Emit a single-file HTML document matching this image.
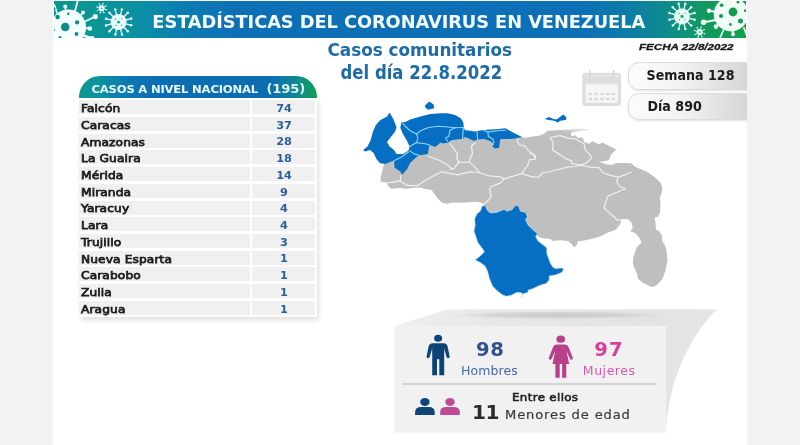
<!DOCTYPE html>
<html lang="es">
<head>
<meta charset="utf-8">
<title>Estadísticas del Coronavirus en Venezuela</title>
<style>
html,body{margin:0;padding:0;}
body{width:800px;height:445px;overflow:hidden;background:#f1f2f4;font-family:"DejaVu Sans","Liberation Sans",sans-serif;position:relative;}
#card{position:absolute;left:53px;top:0;width:693.6px;height:445px;background:#fff;}
#banner{position:absolute;left:54px;top:1.3px;width:692px;height:36.9px;
 background:linear-gradient(90deg,#0b968f 0px,#0b9497 50px,#0b8ea6 90px,#0c7bb2 135px,#0d70b7 180px,#0d6fb6 530px,#0c7da6 575px,#0e8d8a 616px,#119a5c 652px,#12a04c 692px);}
.abs{position:absolute;white-space:nowrap;margin:0;padding:0;line-height:1;}
#title{left:152.3px;top:12.9px;font-size:17.8px;font-weight:bold;color:#f3fbff;letter-spacing:-0.06px;}
#sub1{left:327.5px;top:40.6px;font-size:16.8px;transform-origin:0 0;transform:scaleY(1.05);font-weight:bold;color:#1b6ca9;}
#sub2{left:340.5px;top:64.3px;font-size:16.5px;transform-origin:0 0;transform:scaleY(1.14);font-weight:bold;color:#1b6ca9;}
#fecha{left:639px;top:42.4px;font-size:9.5px;font-weight:bold;font-style:italic;color:#1a1a1a;font-family:"Liberation Sans",sans-serif;transform-origin:0 0;transform:scaleX(1.222);-webkit-text-stroke:0.3px #1a1a1a;}
.pill{position:absolute;left:628px;width:130px;height:27.5px;border:1px solid #dcdcdc;border-radius:11px 0 0 11px;box-sizing:border-box;
 background:linear-gradient(90deg,#fcfcfc 0%,#f3f3f3 40%,#d6d6d6 92%,#d2d2d2 100%);box-shadow:0 1px 2px rgba(0,0,0,.12);}
.pill span{position:absolute;left:17.5px;top:4.8px;font-size:14.1px;font-family:"DejaVu Sans Condensed","DejaVu Sans",sans-serif;font-weight:bold;color:#1c1c1c;line-height:1;white-space:nowrap;}
#edgeR{position:absolute;left:746.6px;top:0;width:53px;height:445px;background:#f1f2f4;}
/* table */
#thead{position:absolute;left:79px;top:76px;width:238px;height:22px;border-radius:21px 21px 0 0;
 background:linear-gradient(90deg,#0d9a8e 0%,#0c92a0 9%,#0d76b2 22%,#0d6db3 34%,#0d6db2 80%,#0e8a90 92%,#11a050 100%);}
#thead span{position:absolute;left:12.5px;top:8.6px;font-size:11.6px;font-weight:bold;color:#e9f8ff;line-height:1;white-space:pre;transform-origin:0 0;transform:scale(1.0,0.88);letter-spacing:-0.2px;}
#thead span.tot{left:187.6px;top:6.6px;font-size:13.2px;letter-spacing:-0.25px;color:#dcf5fa;}
#tbl{position:absolute;left:79px;top:100.3px;width:238.4px;box-shadow:2px 3px 5px rgba(0,0,0,.13);background:#fff;}
.row{position:relative;height:14px;margin-bottom:2.73px;}
.row:last-child{margin-bottom:2.4px;}
.row .n{position:absolute;left:0;top:0;width:171px;height:100%;background:#f0f0f0;}
.row .v{position:absolute;left:173px;top:0;width:63px;height:100%;background:#f0f0f0;}
.row .n span{position:absolute;left:2.4px;top:2.8px;font-size:11px;color:#1e1e1e;line-height:1;white-space:nowrap;letter-spacing:0.1px;-webkit-text-stroke:0.75px #1e1e1e;transform-origin:0 0;transform:scaleX(1.11);}
.row .v span{position:absolute;left:0.5px;width:63px;text-align:center;top:2.7px;font-size:11.3px;font-weight:bold;color:#2b5f9c;line-height:1;}
/* bottom panel */
</style>
</head>
<body>
<div id="card"></div>
<div id="banner"></div>
<!--VIR-->
<svg id="vir" class="abs" style="left:54px;top:1px" width="692" height="37" viewBox="54 1 692 37">
<g fill="#f2fffd" stroke="#f2fffd" stroke-linecap="round">
<circle cx="68.3" cy="27.3" r="17.8" stroke="none"/>
<line x1="66" y1="12" x2="65.2" y2="6.6" stroke-width="1.6"/>
<circle cx="65.2" cy="6.6" r="2.0" stroke="none"/>
<line x1="75" y1="11" x2="77.5" y2="1.5" stroke-width="1.8"/>
<line x1="80" y1="16" x2="83" y2="12.4" stroke-width="1.6"/>
<circle cx="83" cy="12.4" r="2.0" stroke="none"/>
<line x1="84" y1="22" x2="95.3" y2="16.6" stroke-width="1.7"/>
<circle cx="95.3" cy="16.6" r="2.6" stroke="none"/>
<line x1="84" y1="28" x2="89.9" y2="28.5" stroke-width="1.8"/>
<circle cx="89.9" cy="28.5" r="2.3" stroke="none"/>
<line x1="82" y1="35" x2="92" y2="38.5" stroke-width="2.4"/>
<circle cx="92" cy="38.5" r="2.6" stroke="none"/>
<line x1="57" y1="13" x2="54.5" y2="5" stroke-width="1.6"/>
</g>
<g fill="#0d8c86">
<circle cx="65.2" cy="27" r="4.3"/>
<circle cx="57.6" cy="17" r="2.2"/>
<circle cx="77.1" cy="22.4" r="2.1"/>
<circle cx="76.5" cy="34" r="1.9"/>
<circle cx="68.3" cy="13.8" r="1.2"/>
<circle cx="60.1" cy="37.4" r="1.5"/>
<circle cx="54.2" cy="9" r="1.3"/>
<circle cx="54" cy="30" r="0.9"/>
</g>
<g fill="#dffaff" stroke="#dffaff">
<circle cx="101.6" cy="8.3" r="3.0" stroke="none"/>
<line x1="104.0" y1="9.0" x2="106.3" y2="9.7" stroke-width="0.9"/>
<circle cx="106.3" cy="9.7" r="0.7" stroke="none"/>
<line x1="102.8" y1="10.5" x2="103.9" y2="12.6" stroke-width="0.9"/>
<circle cx="103.9" cy="12.6" r="0.7" stroke="none"/>
<line x1="100.9" y1="10.7" x2="100.2" y2="13.0" stroke-width="0.9"/>
<circle cx="100.2" cy="13.0" r="0.7" stroke="none"/>
<line x1="99.4" y1="9.5" x2="97.3" y2="10.6" stroke-width="0.9"/>
<circle cx="97.3" cy="10.6" r="0.7" stroke="none"/>
<line x1="99.2" y1="7.6" x2="96.9" y2="6.9" stroke-width="0.9"/>
<circle cx="96.9" cy="6.9" r="0.7" stroke="none"/>
<line x1="100.4" y1="6.1" x2="99.3" y2="4.0" stroke-width="0.9"/>
<circle cx="99.3" cy="4.0" r="0.7" stroke="none"/>
<line x1="102.3" y1="5.9" x2="103.0" y2="3.6" stroke-width="0.9"/>
<circle cx="103.0" cy="3.6" r="0.7" stroke="none"/>
<line x1="103.8" y1="7.1" x2="105.9" y2="6.0" stroke-width="0.9"/>
<circle cx="105.9" cy="6.0" r="0.7" stroke="none"/>
</g>
<g fill="#3aa9b0">
<circle cx="101.6" cy="8.3" r="0.9"/>
</g>
<g fill="#e6fbff" stroke="#e6fbff">
<circle cx="118.6" cy="22.0" r="8.0" stroke="none"/>
<line x1="125.8" y1="23.9" x2="131.2" y2="25.3" stroke-width="1.3"/>
<circle cx="131.2" cy="25.3" r="1.25" stroke="none"/>
<line x1="123.9" y1="27.3" x2="127.8" y2="31.2" stroke-width="1.3"/>
<circle cx="127.8" cy="31.2" r="1.25" stroke="none"/>
<line x1="120.6" y1="29.2" x2="122.0" y2="34.6" stroke-width="1.3"/>
<circle cx="122.0" cy="34.6" r="1.25" stroke="none"/>
<line x1="116.7" y1="29.2" x2="115.3" y2="34.6" stroke-width="1.3"/>
<circle cx="115.3" cy="34.6" r="1.25" stroke="none"/>
<line x1="113.3" y1="27.3" x2="109.4" y2="31.2" stroke-width="1.3"/>
<circle cx="109.4" cy="31.2" r="1.25" stroke="none"/>
<line x1="111.4" y1="24.0" x2="106.0" y2="25.4" stroke-width="1.3"/>
<circle cx="106.0" cy="25.4" r="1.25" stroke="none"/>
<line x1="111.4" y1="20.1" x2="106.0" y2="18.7" stroke-width="1.3"/>
<circle cx="106.0" cy="18.7" r="1.25" stroke="none"/>
<line x1="113.3" y1="16.7" x2="109.4" y2="12.8" stroke-width="1.3"/>
<circle cx="109.4" cy="12.8" r="1.25" stroke="none"/>
<line x1="116.6" y1="14.8" x2="115.2" y2="9.4" stroke-width="1.3"/>
<circle cx="115.2" cy="9.4" r="1.25" stroke="none"/>
<line x1="120.5" y1="14.8" x2="121.9" y2="9.4" stroke-width="1.3"/>
<circle cx="121.9" cy="9.4" r="1.25" stroke="none"/>
<line x1="123.9" y1="16.7" x2="127.8" y2="12.8" stroke-width="1.3"/>
<circle cx="127.8" cy="12.8" r="1.25" stroke="none"/>
<line x1="125.8" y1="20.0" x2="131.2" y2="18.6" stroke-width="1.3"/>
<circle cx="131.2" cy="18.6" r="1.25" stroke="none"/>
</g>
<g fill="#2e9fb0">
<circle cx="118.6" cy="22" r="1.6"/>
<circle cx="115.5" cy="19" r="0.7"/>
<circle cx="121.5" cy="25.2" r="0.7"/>
<circle cx="116" cy="25.5" r="0.7"/>
<circle cx="121.6" cy="18.6" r="0.6"/>
</g>
<g fill="#e3fdf3" stroke="#e3fdf3">
<circle cx="682.0" cy="16.4" r="8.0" stroke="none"/>
<line x1="689.2" y1="18.3" x2="694.6" y2="19.7" stroke-width="1.3"/>
<circle cx="694.6" cy="19.7" r="1.25" stroke="none"/>
<line x1="687.3" y1="21.7" x2="691.2" y2="25.6" stroke-width="1.3"/>
<circle cx="691.2" cy="25.6" r="1.25" stroke="none"/>
<line x1="684.0" y1="23.6" x2="685.4" y2="29.0" stroke-width="1.3"/>
<circle cx="685.4" cy="29.0" r="1.25" stroke="none"/>
<line x1="680.1" y1="23.6" x2="678.7" y2="29.0" stroke-width="1.3"/>
<circle cx="678.7" cy="29.0" r="1.25" stroke="none"/>
<line x1="676.7" y1="21.7" x2="672.8" y2="25.6" stroke-width="1.3"/>
<circle cx="672.8" cy="25.6" r="1.25" stroke="none"/>
<line x1="674.8" y1="18.4" x2="669.4" y2="19.8" stroke-width="1.3"/>
<circle cx="669.4" cy="19.8" r="1.25" stroke="none"/>
<line x1="674.8" y1="14.5" x2="669.4" y2="13.1" stroke-width="1.3"/>
<circle cx="669.4" cy="13.1" r="1.25" stroke="none"/>
<line x1="676.7" y1="11.1" x2="672.8" y2="7.2" stroke-width="1.3"/>
<circle cx="672.8" cy="7.2" r="1.25" stroke="none"/>
<line x1="680.0" y1="9.2" x2="678.6" y2="3.8" stroke-width="1.3"/>
<circle cx="678.6" cy="3.8" r="1.25" stroke="none"/>
<line x1="683.9" y1="9.2" x2="685.3" y2="3.8" stroke-width="1.3"/>
<circle cx="685.3" cy="3.8" r="1.25" stroke="none"/>
<line x1="687.3" y1="11.1" x2="691.2" y2="7.2" stroke-width="1.3"/>
<circle cx="691.2" cy="7.2" r="1.25" stroke="none"/>
<line x1="689.2" y1="14.4" x2="694.6" y2="13.0" stroke-width="1.3"/>
<circle cx="694.6" cy="13.0" r="1.25" stroke="none"/>
</g>
<g fill="#2aa380">
<circle cx="682" cy="16.4" r="1.6"/>
<circle cx="679" cy="13.5" r="0.7"/>
<circle cx="685" cy="19.6" r="0.7"/>
<circle cx="679.4" cy="19.8" r="0.7"/>
<circle cx="685" cy="13.2" r="0.6"/>
</g>
<g fill="#dcfbee" stroke="#dcfbee">
<circle cx="699.6" cy="32.1" r="3.1" stroke="none"/>
<line x1="702.1" y1="32.9" x2="704.7" y2="33.7" stroke-width="0.9"/>
<circle cx="704.7" cy="33.7" r="0.7" stroke="none"/>
<line x1="700.8" y1="34.4" x2="702.1" y2="36.8" stroke-width="0.9"/>
<circle cx="702.1" cy="36.8" r="0.7" stroke="none"/>
<line x1="698.8" y1="34.6" x2="698.0" y2="37.2" stroke-width="0.9"/>
<circle cx="698.0" cy="37.2" r="0.7" stroke="none"/>
<line x1="697.3" y1="33.3" x2="694.9" y2="34.6" stroke-width="0.9"/>
<circle cx="694.9" cy="34.6" r="0.7" stroke="none"/>
<line x1="697.1" y1="31.3" x2="694.5" y2="30.5" stroke-width="0.9"/>
<circle cx="694.5" cy="30.5" r="0.7" stroke="none"/>
<line x1="698.4" y1="29.8" x2="697.1" y2="27.4" stroke-width="0.9"/>
<circle cx="697.1" cy="27.4" r="0.7" stroke="none"/>
<line x1="700.4" y1="29.6" x2="701.2" y2="27.0" stroke-width="0.9"/>
<circle cx="701.2" cy="27.0" r="0.7" stroke="none"/>
<line x1="701.9" y1="30.9" x2="704.3" y2="29.6" stroke-width="0.9"/>
<circle cx="704.3" cy="29.6" r="0.7" stroke="none"/>
</g>
<g fill="#3aae88">
<circle cx="699.6" cy="32.1" r="0.9"/>
</g>
<g fill="#f0fff6" stroke="#f0fff6" stroke-linecap="round">
<circle cx="731" cy="14.2" r="17.2" stroke="none"/>
<line x1="716" y1="12" x2="709" y2="10.7" stroke-width="1.8"/>
<circle cx="709" cy="10.7" r="2.2" stroke="none"/>
<line x1="716" y1="20" x2="703.6" y2="22.2" stroke-width="1.9"/>
<circle cx="703.6" cy="22.2" r="2.8" stroke="none"/>
<line x1="720" y1="24" x2="716" y2="26.6" stroke-width="1.8"/>
<circle cx="716" cy="26.6" r="2.3" stroke="none"/>
<line x1="733" y1="30" x2="733" y2="34.2" stroke-width="2.2"/>
<circle cx="733" cy="34.2" r="2.0" stroke="none"/>
<line x1="744" y1="28" x2="747" y2="36" stroke-width="1.8"/>
<line x1="724" y1="29" x2="720" y2="38" stroke-width="1.6"/>
</g>
<g fill="#109a52">
<circle cx="733" cy="12" r="4.4"/>
<circle cx="721.6" cy="5.3" r="1.8"/>
<circle cx="721" cy="16.1" r="2.0"/>
<circle cx="740.5" cy="21.1" r="2.5"/>
<circle cx="730.4" cy="24.5" r="1.4"/>
<circle cx="745.3" cy="10.7" r="1.4"/>
<circle cx="738" cy="2.2" r="1.4"/>
<circle cx="713" cy="2.5" r="1.5"/>
</g>
</svg>
<!--/VIR-->
<div id="title" class="abs">ESTADÍSTICAS DEL CORONAVIRUS EN VENEZUELA</div>
<div id="sub1" class="abs">Casos comunitarios</div>
<div id="sub2" class="abs">del día 22.8.2022</div>
<div id="fecha" class="abs">FECHA 22/8/2022</div>
<div class="pill" style="top:62px;"><span>Semana 128</span></div>
<div class="pill" style="top:92.6px;"><span style="left:18.5px;top:5.8px;">Día 890</span></div>
<!--CAL-->
<svg id="cal" class="abs" style="left:578px;top:66px" width="48" height="46" viewBox="578 66 48 46">
 <rect x="582.3" y="72.8" width="38.8" height="33.2" rx="3.2" fill="#dedede"/>
 <rect x="585.6" y="84.2" width="32.2" height="18.6" rx="0.8" fill="#f6f6f6"/>
 <rect x="584.6" y="75.2" width="34.2" height="1.2" fill="#ebebeb"/>
 <g fill="none" stroke="#d6d6d6" stroke-width="1.6" stroke-linecap="round">
  <path d="M589.8 70.8 V76.5"/><path d="M613.6 70.8 V76.5"/>
 </g>
 <g fill="#d9d9d9">
  <rect x="588.6" y="92.9" width="3.6" height="2.2"/><rect x="594.4" y="92.9" width="3.6" height="2.2"/><rect x="600.2" y="92.9" width="3.6" height="2.2"/><rect x="606" y="92.9" width="3.6" height="2.2"/><rect x="611.8" y="92.9" width="3.6" height="2.2"/>
  <rect x="588.6" y="97.9" width="3.6" height="2.2"/><rect x="594.4" y="97.9" width="3.6" height="2.2"/><rect x="600.2" y="97.9" width="3.6" height="2.2"/><rect x="606" y="97.9" width="3.6" height="2.2"/><rect x="611.8" y="97.9" width="3.6" height="2.2"/>
 </g>
</svg>
<!--/CAL-->
<div id="edgeR"></div>

<div id="thead"><span>CASOS A NIVEL NACIONAL</span><span class="tot">(195)</span></div>
<div id="tbl">
<div class="row"><div class="n"><span>Falcón</span></div><div class="v"><span>74</span></div></div>
<div class="row"><div class="n"><span>Caracas</span></div><div class="v"><span>37</span></div></div>
<div class="row"><div class="n"><span>Amazonas</span></div><div class="v"><span>28</span></div></div>
<div class="row"><div class="n"><span>La Guaira</span></div><div class="v"><span>18</span></div></div>
<div class="row"><div class="n"><span>Mérida</span></div><div class="v"><span>14</span></div></div>
<div class="row"><div class="n"><span>Miranda</span></div><div class="v"><span>9</span></div></div>
<div class="row"><div class="n"><span>Yaracuy</span></div><div class="v"><span>4</span></div></div>
<div class="row"><div class="n"><span>Lara</span></div><div class="v"><span>4</span></div></div>
<div class="row"><div class="n"><span>Trujillo</span></div><div class="v"><span>3</span></div></div>
<div class="row"><div class="n"><span>Nueva Esparta</span></div><div class="v"><span>1</span></div></div>
<div class="row"><div class="n"><span>Carabobo</span></div><div class="v"><span>1</span></div></div>
<div class="row"><div class="n"><span>Zulia</span></div><div class="v"><span>1</span></div></div>
<div class="row"><div class="n"><span>Aragua</span></div><div class="v"><span>1</span></div></div>
</div>

<!--MAP-->
<svg id="map" class="abs" style="left:0;top:0" width="800" height="445" viewBox="0 0 800 445">
<path d="M383.8 164.8 L382.6 169.8 L380.7 177.4 L380.7 181.8 L386.4 182.4 L388.2 186.2 L391.4 188.7 L398.9 188.1 L407.7 188.7 L412.8 188.1 L420.3 187.4 L425.3 189.0 L431.6 190.0 L434.2 193.7 L437.9 198.8 L441.7 202.5 L446.7 203.8 L453.0 202.5 L460.6 202.8 L465.2 202.4 L475.2 201.7 L481.5 202.4 L483.4 204.2 L486.0 208.0 L491.0 215.0 L500.0 214.0 L510.0 213.0 L516.0 209.0 L521.0 214.0 L526.0 220.0 L530.0 228.0 L536.0 235.0 L540.3 237.7 L550.3 239.0 L552.8 240.9 L560.4 240.3 L567.9 240.9 L571.7 244.0 L574.2 247.2 L576.7 245.3 L578.0 241.5 L585.5 240.3 L593.1 238.4 L600.0 236.5 L607.7 232.5 L614.0 230.6 L616.5 229.0 L620.3 224.0 L621.5 219.0 L627.8 219.0 L631.6 222.8 L632.8 227.8 L630.3 231.6 L635.3 233.1 L639.1 237.5 L641.6 242.6 L636.6 247.6 L635.3 251.4 L633.5 256.4 L632.8 262.7 L634.7 269.0 L637.2 274.0 L637.9 278.4 L642.9 282.8 L647.9 285.3 L651.7 287.0 L655.5 286.0 L659.2 282.8 L663.0 277.8 L665.5 270.3 L667.4 260.2 L666.8 252.6 L665.5 246.4 L662.4 241.3 L661.8 235.0 L658.0 230.0 L656.1 230.3 L655.5 224.0 L654.8 217.7 L658.0 216.5 L659.9 212.7 L660.5 205.2 L659.9 197.6 L661.8 192.6 L662.4 187.5 L660.5 182.8 L655.5 177.8 L650.4 174.0 L645.4 170.9 L639.1 168.4 L634.7 166.5 L631.6 163.3 L624.0 163.0 L616.5 163.0 L612.7 164.6 L606.4 164.0 L600.0 162.0 L608.9 160.2 L611.4 153.9 L616.5 149.5 L610.2 146.4 L602.6 142.6 L598.9 144.5 L592.6 141.3 L588.8 143.8 L584.4 142.0 L582.5 137.5 L577.9 137.7 L575.3 135.2 L571.6 136.5 L570.3 133.0 L575.3 131.4 L585.4 130.8 L590.4 129.2 L580.4 128.8 L570.3 129.4 L557.7 130.2 L547.7 130.8 L543.9 134.0 L538.9 135.8 L532.6 136.5 L525.0 137.7 L521.8 136.9 L505.0 134.0 L480.0 135.0 L460.0 133.0 L445.0 138.0 L430.0 142.0 L418.0 150.0 L408.0 160.0 L402.0 168.0 L397.0 163.0 L390.0 160.0 L385.0 162.0 Z" fill="#bfbfbf"/>
<defs><linearGradient id="fade" x1="0" y1="0" x2="1" y2="0"><stop offset="0" stop-color="#fff" stop-opacity="0"/><stop offset="1" stop-color="#fff" stop-opacity="0.85"/></linearGradient></defs>
<rect x="562" y="127.5" width="30" height="4.2" fill="url(#fade)"/>
<g fill="none" stroke="#efefef" stroke-width="1.25" stroke-linejoin="round" stroke-linecap="round">
<path d="M450.0 143.5 L453.8 148.6 L457.5 153.6 L456.9 158.6 L458.8 162.4 L453.8 168.7 L450.0 169.3"/>
<path d="M458.8 162.4 L469.5 162.4"/>
<path d="M475.2 142.9 L471.4 146.1 L472.6 153.6 L470.1 158.6 L469.5 162.4 L475.2 167.4 L479.6 172.5"/>
<path d="M400.2 181.2 L407.7 185.6 L417.8 185.6 L425.3 180.5 L435.4 174.9 L441.7 171.7 L450.5 173.6 L458.0 174.9 L462.6 173.7 L470.1 171.8 L479.6 172.5 L487.7 175.6 L500.3 176.9 L504.1 178.8"/>
<path d="M400.8 175.5 L400.2 181.2"/>
<path d="M387.0 183.0 L393.0 182.2 L400.2 181.2"/>
<path d="M504.1 178.8 L500.3 183.2 L491.5 186.3 L489.6 188.8 L490.3 192.0 L491.0 196.0 L489.7 199.0 L484.0 204.0"/>
<path d="M504.1 178.8 L515.4 175.6 L521.7 173.7"/>
<path d="M521.7 173.7 L524.2 170.0 L528.0 164.9 L529.2 159.9 L534.3 159.3 L535.5 156.1 L530.5 152.4 L526.7 148.6 L525.5 146.1 L519.2 144.8 L517.3 141.0 L518.0 138.0"/>
<path d="M521.7 173.7 L530.5 176.3 L538.1 177.5 L542.6 172.8 L550.1 171.5 L560.2 169.0 L567.7 167.1 L575.3 166.5 L580.3 165.2"/>
<path d="M550.1 137.5 L553.3 142.6 L552.6 150.1 L558.9 153.9 L565.2 158.3 L571.5 160.8 L571.5 163.3 L580.3 165.2"/>
<path d="M550.1 137.5 L560.2 135.7 L567.7 138.2 L575.3 138.8 L584.1 143.8"/>
<path d="M584.1 143.8 L585.3 150.1 L590.4 155.2 L591.6 158.3 L586.6 162.7 L580.3 165.2"/>
<path d="M580.3 165.2 L590.4 167.1 L599.2 167.7 L603.0 172.8 L610.5 175.3 L618.1 177.2 L625.6 174.7 L631.0 172.0"/>
<path d="M618.1 177.2 L616.8 181.6 L619.3 186.0 L625.3 188.8 L607.7 196.4 L603.9 207.7 L617.7 220.3 L621.0 220.0"/>
<path d="M600.0 162.0 L606.4 164.0 L612.7 164.6"/>
<path d="M427.9 156.0 L437.9 159.8 L445.5 163.5 L451.8 168.6 L453.8 168.7"/>
<path d="M530.0 153.3 L534.4 155.2 L535.0 159.6"/>
</g>
<path d="M389.6 112.6 L393.3 118.9 L396.5 127.1 L395.2 131.5 L391.4 136.3 L387.0 142.0 L389.6 146.4 L394.0 150.1 L396.5 153.9 L402.8 153.9 L408.4 150.8 L409.7 146.4 L406.5 140.0 L402.8 133.8 L400.3 127.7 L401.5 122.0 L405.3 122.0 L410.3 119.5 L420.4 116.4 L430.4 113.9 L440.5 113.2 L447.5 113.2 L455.1 115.1 L460.8 118.2 L463.3 122.6 L463.9 128.3 L465.2 130.2 L470.2 130.8 L475.2 131.4 L481.5 130.2 L490.3 129.6 L499.1 128.9 L505.4 128.3 L509.0 130.3 L512.5 132.2 L517.0 134.6 L522.0 137.0 L515.5 138.6 L507.9 139.0 L500.4 139.0 L499.7 142.8 L499.1 147.8 L495.3 148.4 L492.2 146.5 L494.1 144.0 L490.3 140.9 L484.0 139.0 L477.7 139.6 L474.0 140.9 L469.6 139.0 L465.2 137.1 L462.0 139.0 L456.4 139.6 L451.3 140.3 L447.5 142.8 L442.5 143.4 L440.5 142.6 L435.5 147.0 L429.8 145.1 L428.6 148.9 L427.9 153.9 L419.1 155.2 L416.6 157.0 L410.3 162.7 L407.2 169.0 L402.1 174.7 L400.3 171.5 L394.6 167.7 L394.0 160.8 L390.2 162.1 L385.2 164.0 L380.1 163.3 L376.4 158.9 L373.8 153.3 L370.0 150.1 L365.0 151.4 L363.1 150.1 L367.5 146.4 L370.7 140.0 L372.6 132.7 L375.7 125.2 L380.1 120.2 L387.0 116.4 Z" fill="#066fc4"/>
<path d="M424.8 105.7 L429.2 101.5 L433.6 104.4 L434.2 108.2 L427.9 109.8 L425.4 107.6 Z" fill="#066fc4"/>
<path d="M544.5 118.9 L548.9 117.0 L553.3 118.9 L556.5 119.5 L563.4 114.5 L566.5 117.6 L565.9 120.1 L560.3 120.8 L557.7 122.6 L554.0 120.8 L548.9 120.1 Z" fill="#066fc4"/>
<path d="M482.1 206.1 L485.3 205.5 L487.2 209.9 L490.3 213.0 L496.6 212.4 L501.6 210.5 L504.2 209.3 L506.7 211.2 L511.7 209.9 L515.5 205.5 L518.6 206.1 L520.5 211.2 L525.5 212.4 L527.4 216.8 L525.5 219.3 L528.1 225.0 L533.1 230.0 L537.5 233.8 L535.6 236.3 L538.0 241.0 L543.0 244.8 L546.8 247.9 L546.8 253.6 L548.7 258.6 L550.6 263.7 L553.1 267.4 L555.5 268.6 L561.8 267.9 L563.6 269.2 L561.8 272.4 L555.5 274.9 L549.2 276.1 L549.2 279.9 L546.0 283.7 L542.9 284.3 L537.9 286.2 L532.8 288.7 L528.4 290.0 L527.8 292.5 L523.4 293.7 L521.5 298.1 L522.8 293.7 L520.3 292.5 L516.5 292.5 L511.4 295.2 L506.4 296.3 L502.6 295.0 L497.6 291.2 L492.6 286.2 L489.4 278.6 L487.5 271.1 L485.0 266.1 L480.1 262.4 L475.1 259.9 L480.1 256.1 L484.5 251.7 L481.4 247.3 L477.6 242.3 L475.7 236.0 L474.0 231.3 L475.2 225.0 L474.6 218.7 L477.1 213.7 L480.3 211.2 Z" fill="#066fc4" stroke="#bfe6fb" stroke-width="0.6"/>
<g fill="none" stroke="#8ed4fb" stroke-width="1.1" stroke-linejoin="round" stroke-linecap="round">
<path d="M402.5 122.5 L405.0 126.0 L410.3 130.8 L416.6 134.0 L417.9 137.8 L416.6 142.6 L409.7 146.4"/>
<path d="M416.6 134.0 L420.4 130.8 L427.9 127.7 L438.0 126.2 L448.0 127.0 L454.3 127.7 L463.5 127.5"/>
<path d="M416.6 142.6 L425.4 143.8 L429.8 145.1"/>
<path d="M409.7 150.8 L414.1 153.9 L419.1 155.2"/>
<path d="M394.0 160.8 L401.5 157.0 L408.4 152.0"/>
<path d="M456.4 127.3 L450.0 130.2 L448.8 136.5 L445.6 137.7 L447.5 141.0"/>
<path d="M463.3 128.0 L462.6 138.0"/>
<path d="M477.0 131.5 L477.7 139.5"/>
<path d="M484.0 130.5 L487.8 132.1 L488.4 136.5 L492.8 139.0 L494.0 143.0"/>
<path d="M487.8 132.1 L496.6 130.8 L505.4 130.2"/>
</g>
</svg>
<!--/MAP-->
<svg id="lid" class="abs" style="left:0;top:0" width="800" height="445" viewBox="0 0 800 445">
 <defs>
  <linearGradient id="lg1" x1="0" y1="0" x2="1" y2="0.25"><stop offset="0" stop-color="#efefef"/><stop offset="0.3" stop-color="#e8e8e8"/><stop offset="0.75" stop-color="#e3e3e3"/><stop offset="1" stop-color="#e6e6e6"/></linearGradient>
  <radialGradient id="lg2" cx="0.5" cy="0.5" r="0.5"><stop offset="0" stop-color="#000" stop-opacity="0.13"/><stop offset="0.6" stop-color="#000" stop-opacity="0.08"/><stop offset="1" stop-color="#000" stop-opacity="0"/></radialGradient>
 </defs>
 <path d="M394.4 326 L447 309.6 L717 309.2 C699 326 685 352 676.3 376 C670.5 394 667.3 412 665.8 432.7 L665.8 326 Z" fill="url(#lg1)"/>
 <ellipse cx="556" cy="315.2" rx="107" ry="4" fill="url(#lg2)"/>
 <rect x="394.4" y="326" width="271.4" height="106.7" fill="#f1f1f1"/>
 <rect x="402" y="383.3" width="254" height="1.4" fill="#c6c6c6"/>
 <!-- man -->
 <g fill="#0d4476">
  <ellipse cx="438.1" cy="338.3" rx="4" ry="3.5"/>
  <path d="M432.6 343.2 H443.6 Q447 343.4 447.6 346.6 L449.6 356.2 Q449.8 358 448.3 358.2 Q446.9 358.3 446.5 356.8 L444.2 348.5 V375.3 H439.3 V359.3 H437 V375.3 H432.2 V348.5 L429.7 356.8 Q429.3 358.3 427.9 358.2 Q426.4 358 426.6 356.2 L428.6 346.6 Q429.2 343.4 432.6 343.2 Z"/>
 </g>
 <!-- woman -->
 <g fill="#b6408a">
  <ellipse cx="560.7" cy="339.2" rx="4.3" ry="3.6"/>
  <path d="M556.5 344.4 H565 Q567.8 344.6 568.7 347.4 L572.7 357.6 Q573.2 359.2 571.8 359.7 Q570.5 360 569.9 358.7 L566.4 350.8 L569.2 363.9 H566.3 V377.8 H562.1 V363.9 H559.7 V377.8 H555.4 V363.9 H552.5 L555.2 350.8 L551.7 358.7 Q551.1 360 549.8 359.7 Q548.4 359.2 548.9 357.6 L552.9 347.4 Q553.8 344.6 556.5 344.4 Z"/>
 </g>
 <!-- kids -->
 <g fill="#0f4577">
  <ellipse cx="424.9" cy="401.9" rx="4.7" ry="4"/>
  <path d="M415.1 415 V412 Q415.3 407.1 421 407 H428.8 Q434.5 407.1 434.7 412 V415 Z"/>
 </g>
 <g fill="#bf4a93">
  <ellipse cx="450" cy="401.9" rx="4.7" ry="4"/>
  <path d="M440.2 415 V412 Q440.4 407.1 446.1 407 H453.9 Q459.6 407.1 459.8 412 V415 Z"/>
 </g>
</svg>
<div class="abs" style="left:475.9px;top:339.6px;font-size:19.6px;font-weight:bold;color:#33508f;letter-spacing:0.7px;">98</div>
<div class="abs" style="left:461px;top:365.1px;font-size:12.5px;color:#4868a6;letter-spacing:0.1px;">Hombres</div>
<div class="abs" style="left:594.2px;top:339.6px;font-size:19.6px;font-weight:bold;color:#d63f9c;letter-spacing:1.2px;">97</div>
<div class="abs" style="left:582.8px;top:365.1px;font-size:12.5px;color:#d85aa8;letter-spacing:0.55px;">Mujeres</div>
<div class="abs" style="left:512.4px;top:391.8px;font-size:10.6px;color:#1e1e1e;letter-spacing:0.3px;-webkit-text-stroke:0.55px #1e1e1e;transform-origin:0 0;transform:scaleX(1.12);">Entre ellos</div>
<div class="abs" style="left:472px;top:401.8px;font-size:20.2px;font-weight:bold;color:#2b2b2b;letter-spacing:-0.5px;">11</div>
<div class="abs" style="left:504.8px;top:408.9px;font-size:12.1px;color:#3c3c3c;letter-spacing:0.8px;-webkit-text-stroke:0.2px #3c3c3c;transform-origin:0 0;transform:scaleX(1.08);">Menores de edad</div>
</body>
</html>
